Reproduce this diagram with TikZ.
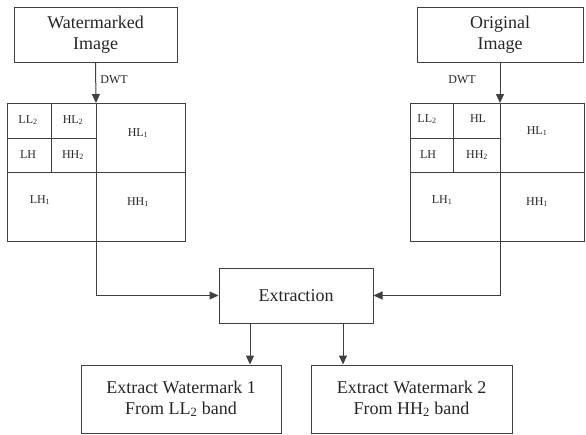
\documentclass[tikz,border=0pt]{standalone}
\usepackage{fontspec}
\setmainfont{Liberation Serif}
\usetikzlibrary{arrows.meta}
\definecolor{ln}{gray}{0.25}
\begin{document}
\begin{tikzpicture}[x=1pt,y=-1pt,
  box/.style={draw=ln,line width=1pt,rectangle,align=center,inner sep=0pt,
    font=\fontsize{18}{20.5}\selectfont,text=black!85},
  grid/.style={draw=ln,line width=1pt,rectangle,inner sep=0pt},
  lbl/.style={font=\fontsize{12}{14}\selectfont,text=black!85,inner sep=0pt},
  gl/.style={draw=ln,line width=1pt},
  arr/.style={draw=ln,line width=1pt,-{Triangle[width=8pt,length=9pt]}},
  con/.style={draw=ln,line width=1pt}]
\useasboundingbox (0,0) rectangle (586,434);
% boxes
\node[box,minimum width=163pt,minimum height=55pt] (wm) at (95.5,34.5) {Watermarked\\Image};
\node[box,minimum width=166pt,minimum height=55pt] (orig) at (500,34.5) {Original\\Image};
\node[grid,minimum width=178pt,minimum height=138pt] (gl) at (96,172) {};
\node[grid,minimum width=174pt,minimum height=138pt] (gr) at (497,172) {};
\node[box,minimum width=154pt,minimum height=55pt] (ex) at (296,295.5) {Extraction};
\node[box,minimum width=200pt,minimum height=68pt] (b1) at (181,399) {Extract Watermark 1\\From LL\textsubscript{2} band};
\node[box,minimum width=201pt,minimum height=68pt] (b2) at (411.5,399) {Extract Watermark 2\\From HH\textsubscript{2} band};
% left grid lines
\coordinate (gltop) at (96,103);
\draw[gl] (gltop) -- (96,241);
\draw[gl] (7,172) -- (185,172);
\draw[gl] (51,103) -- (51,172);
\draw[gl] (7,138) -- (96,138);
% right grid lines
\coordinate (grtop) at (500,103);
\draw[gl] (grtop) -- (500,241);
\draw[gl] (410,172) -- (584,172);
\draw[gl] (453,103) -- (453,172);
\draw[gl] (410,138) -- (500,138);
% left labels
\node[lbl] (l1) at (28,120) {LL\textsubscript{2}};
\node[lbl] (l2) at (73,120) {HL\textsubscript{2}};
\node[lbl] (l3) at (138,133) {HL\textsubscript{1}};
\node[lbl] (l4) at (28,155) {LH};
\node[lbl] (l5) at (73,155) {HH\textsubscript{2}};
\node[lbl] (l6) at (40,200) {LH\textsubscript{1}};
\node[lbl] (l7) at (138,202) {HH\textsubscript{1}};
% right labels
\node[lbl] (r1) at (427,119) {LL\textsubscript{2}};
\node[lbl] (r2) at (478,119) {HL};
\node[lbl] (r3) at (537,131) {HL\textsubscript{1}};
\node[lbl] (r4) at (428,155) {LH};
\node[lbl] (r5) at (477,155) {HH\textsubscript{2}};
\node[lbl] (r6) at (442,200) {LH\textsubscript{1}};
\node[lbl] (r7) at (537,202) {HH\textsubscript{1}};
% DWT arrows
\draw[arr] (wm.south) -- (gltop);
\draw[arr] (orig.south) -- (grtop);
\node[lbl] (dwt1) at (114,80) {DWT};
\node[lbl] (dwt2) at (462,80) {DWT};
% to extraction
\draw[arr] (96,241) |- (ex.west);
\draw[arr] (500,241) |- (ex.east);
% to outputs
\draw[arr] ([xshift=-46pt]ex.south) -- ([xshift=-46pt]ex.south |- b1.north);
\draw[arr] ([xshift=47pt]ex.south) -- ([xshift=47pt]ex.south |- b2.north);
\end{tikzpicture}
\end{document}
